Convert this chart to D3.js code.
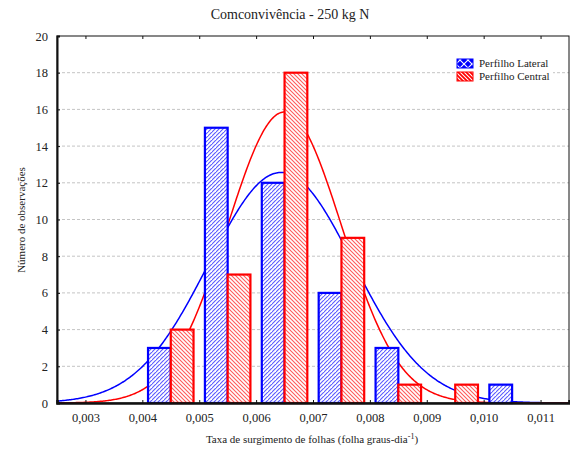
<!DOCTYPE html>
<html>
<head>
<meta charset="utf-8">
<script src="https://cdn.jsdelivr.net/npm/d3@7"></script>
<style>
  body { margin: 0; background: #fff; }
  svg text { font-family: "Liberation Serif", "DejaVu Serif", serif; fill: #222; }
</style>
</head>
<body>
<svg id="chart" width="570" height="455"></svg>
<script>
// histogram data (bins are 0.001 wide, centred on .xx5)
var binCenters = [0.0045, 0.0055, 0.0065, 0.0075, 0.0085, 0.0095, 0.0105];
var lateral = [3, 15, 12, 6, 3, 0, 1];
var central = [4, 7, 18, 9, 1, 1, 0];
var xTicks = [0.003, 0.004, 0.005, 0.006, 0.007, 0.008, 0.009, 0.010, 0.011];
var yTicks = [0, 2, 4, 6, 8, 10, 12, 14, 16, 18, 20];
var seriesNames = ["Perfilho Lateral", "Perfilho Central"];

// fitted normal curves (mean, sd, n) estimated from the drawn curves
var fitLateral = [0.00644, 0.00127, 40];
var fitCentral = [0.0065, 0.001006, 40];
var binWidth = 0.001;

var svg = d3.select("#chart");
var plotLeft = 57, plotRight = 569, plotTop = 36, plotBottom = 403;
var serif = '"Liberation Serif", "DejaVu Serif", serif';

var x = d3.scaleLinear().domain([0.0025, 0.0115]).range([plotLeft, plotRight]);
var y = d3.scaleLinear().domain([0, 20]).range([plotBottom, plotTop]);
// position of each series inside a bin, in data units
var sub = d3.scaleBand().domain(seriesNames).range([-0.0004, 0.0004]);

var colors = { "Perfilho Lateral": "#0000ff", "Perfilho Central": "#ff0000" };

//hatch patterns
var defs = svg.append("defs");
function hatch(id, color, angles, bg, size) {
    var p = defs.append("pattern")
        .attr("id", id)
        .attr("patternUnits", "userSpaceOnUse")
        .attr("width", size).attr("height", size);
    p.append("rect").attr("width", size).attr("height", size).attr("fill", bg);
    angles.forEach(function(a) {
        // "/" or "\" diagonals, drawn with overhang so they tile seamlessly
        var d = a > 0
            ? "M-1," + (size + 1) + "L" + (size + 1) + ",-1M" + (-1 - size) + "," + (size + 1) + "L" + (size + 1 - size) + ",-1M" + (size - 1) + "," + (size + size + 1) + "L" + (2 * size + 1) + "," + (size - 1)
            : "M-1,-1L" + (size + 1) + "," + (size + 1) + "M" + (-1 - size) + ",-1L1," + (size + 1) + "M" + (size - 1) + ",-1L" + (2 * size + 1) + "," + (size + 1);
        p.append("path").attr("d", d)
            .attr("stroke", color).attr("stroke-width", 1.1).attr("fill", "none");
    });
}
hatch("hatchBlue", "#5a5aff", [1], "#fff", 4);
hatch("hatchRed", "#ff5a5a", [-1], "#fff", 4);
hatch("legBlue", "#fff", [1, -1], "#0000ff", 8);
hatch("legRed", "#fff", [-1], "#ff0000", 4);

//dashed gridlines
svg.append("g").selectAll("line")
    .data(yTicks.filter(function(d) { return d > 0 && d < 20; }))
    .enter().append("line")
    .attr("x1", plotLeft).attr("x2", plotRight)
    .attr("y1", function(d) { return y(d); })
    .attr("y2", function(d) { return y(d); })
    .attr("stroke", "#c4c4c4")
    .attr("stroke-dasharray", "3,2");

//normal curves drawn under the bars
function curvePoints(fit) {
    var pts = [];
    for (var v = 0.0025; v <= 0.01150001; v += 0.00002) {
        var z = (v - fit[0]) / fit[1];
        pts.push([v, fit[2] * binWidth / (fit[1] * Math.sqrt(2 * Math.PI)) * Math.exp(-0.5 * z * z)]);
    }
    return pts;
}
var line = d3.line()
    .x(function(d) { return x(d[0]); })
    .y(function(d) { return y(d[1]); });

svg.append("path").attr("d", line(curvePoints(fitLateral)))
    .attr("fill", "none").attr("stroke", "#0000ff").attr("stroke-width", 1.5);
svg.append("path").attr("d", line(curvePoints(fitCentral)))
    .attr("fill", "none").attr("stroke", "#ff0000").attr("stroke-width", 1.5);

//bars
function drawBars(values, name, fill) {
    var data = binCenters.map(function(c, i) { return { c: c, v: values[i] }; })
        .filter(function(d) { return d.v > 0; });
    svg.append("g").selectAll("rect")
        .data(data)
        .enter().append("rect")
        .attr("x", function(d) { return x(d.c + sub(name)); })
        .attr("width", function(d) { return x(d.c + sub(name) + sub.bandwidth()) - x(d.c + sub(name)); })
        .attr("y", function(d) { return y(d.v); })
        .attr("height", function(d) { return y(0) - y(d.v); })
        .attr("fill", fill)
        .attr("stroke", colors[name])
        .attr("stroke-width", 2.2);
}
drawBars(lateral, "Perfilho Lateral", "url(#hatchBlue)");
drawBars(central, "Perfilho Central", "url(#hatchRed)");

//frame and axes
svg.append("rect")
    .attr("x", plotLeft).attr("y", plotTop)
    .attr("width", plotRight - plotLeft).attr("height", plotBottom - plotTop)
    .attr("fill", "none").attr("stroke", "#111").attr("stroke-width", 1);

var fmt = function(d) { return d3.format(".3f")(d).replace(".", ","); };

var xAxis = svg.append("g")
    .attr("transform", "translate(0," + plotBottom + ")")
    .call(d3.axisBottom(x).tickValues(xTicks).tickFormat(fmt).tickSize(-3).tickPadding(10));
xAxis.select(".domain").attr("stroke", "#111").attr("stroke-width", 2.5);

svg.append("g")
    .attr("transform", "translate(0," + plotTop + ")")
    .call(d3.axisTop(x).tickValues(xTicks).tickFormat("").tickSize(-3))
    .select(".domain").remove();

var yAxis = svg.append("g")
    .attr("transform", "translate(" + plotLeft + ",0)")
    .call(d3.axisLeft(y).tickValues(yTicks).tickSize(-3).tickPadding(9));
yAxis.select(".domain").attr("stroke", "#111").attr("stroke-width", 2);

svg.selectAll(".tick text")
    .style("font-family", serif)
    .style("font-size", "12.5px")
    .attr("fill", "#222");
svg.selectAll(".tick line").attr("stroke", "#111");

//legend
var leg = svg.append("g");
leg.append("rect").attr("x", 455).attr("y", 56).attr("width", 98).attr("height", 28).attr("fill", "#fff");
seriesNames.forEach(function(name, i) {
    leg.append("rect")
        .attr("x", 457).attr("y", 59 + i * 13)
        .attr("width", 16).attr("height", 9)
        .attr("fill", i == 0 ? "url(#legBlue)" : "url(#legRed)")
        .attr("stroke", colors[name]).attr("stroke-width", 1);
    leg.append("text")
        .attr("x", 479).attr("y", 67 + i * 13)
        .style("font-size", "11px")
        .text(name);
});

//titles
svg.append("text")
    .attr("x", 290).attr("y", 19)
    .attr("text-anchor", "middle")
    .style("font-size", "14px")
    .text("Comconvivência - 250 kg N");

var xl = svg.append("text")
    .attr("x", 312).attr("y", 443)
    .attr("text-anchor", "middle")
    .style("font-size", "11px");
xl.append("tspan").text("Taxa de surgimento de folhas (folha graus-dia");
xl.append("tspan").attr("dy", -4).style("font-size", "8px").text("-1");
xl.append("tspan").attr("dy", 4).text(")");

svg.append("text")
    .attr("transform", "translate(25,220) rotate(-90)")
    .attr("text-anchor", "middle")
    .style("font-size", "11px")
    .text("Número de observações");
</script>
</body>
</html>
